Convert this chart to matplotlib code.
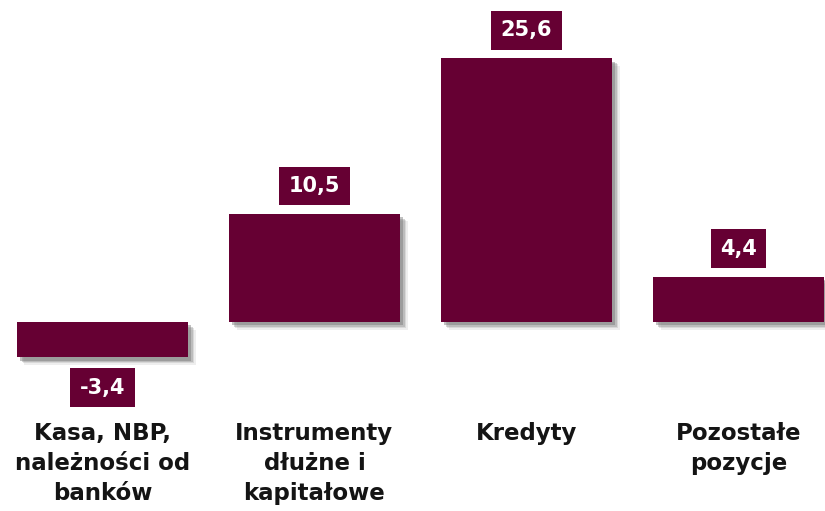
import numpy as np
import matplotlib.pyplot as plt
import matplotlib.patheffects as pe
import matplotlib.transforms as mtransforms

categories = ["Kasa, NBP,\nnależności od\nbanków",
              "Instrumenty\ndłużne i\nkapitałowe",
              "Kredyty",
              "Pozostałe\npozycje"]
values = [-3.4, 10.5, 25.6, 4.4]
labels = ["-3,4", "10,5", "25,6", "4,4"]

bar_color = "#660033"

fig = plt.figure(figsize=(8.25, 5.11), dpi=100)
ax = fig.add_axes([0, 0, 1, 1])

x = np.arange(len(values))
# soft drop shadow, stacked to fake a blur
shadow = [pe.SimplePatchShadow(offset=(5.5, -5.5), shadow_rgbFace="#aaaaaa", alpha=0.2),
          pe.SimplePatchShadow(offset=(4.5, -4.5), shadow_rgbFace="#999999", alpha=0.25),
          pe.SimplePatchShadow(offset=(3.5, -3.5), shadow_rgbFace="#888888", alpha=0.35),
          pe.SimplePatchShadow(offset=(2.5, -2.5), shadow_rgbFace="#777777", alpha=0.45),
          pe.Normal()]
bars = ax.bar(x, values, width=0.807, color=bar_color, zorder=2)
for b in bars:
    b.set_path_effects(shadow)

for xi, v, lab in zip(x, values, labels):
    off = 20 if v >= 0 else -22
    ax.annotate(lab, (xi, v), xytext=(0, off), textcoords="offset points",
                ha="center", va="center", color="white", fontsize=15,
                fontweight="bold", family="DejaVu Sans",
                bbox=dict(boxstyle="square,pad=0.45", fc=bar_color, ec="none"))

trans = mtransforms.blended_transform_factory(ax.transData, ax.transAxes)
for xi, cat in zip(x, categories):
    ax.text(xi, 1 - 422 / 511, cat, transform=trans, ha="center", va="top",
            fontsize=16.5, fontweight="bold", color="#141414",
            linespacing=1.38, family="DejaVu Sans")

ax.set_xlim(-0.483, 3.408)
ax.set_ylim(-18.33, 31.23)
ax.axis("off")

fig.savefig("out.png", dpi=100, facecolor="white")
